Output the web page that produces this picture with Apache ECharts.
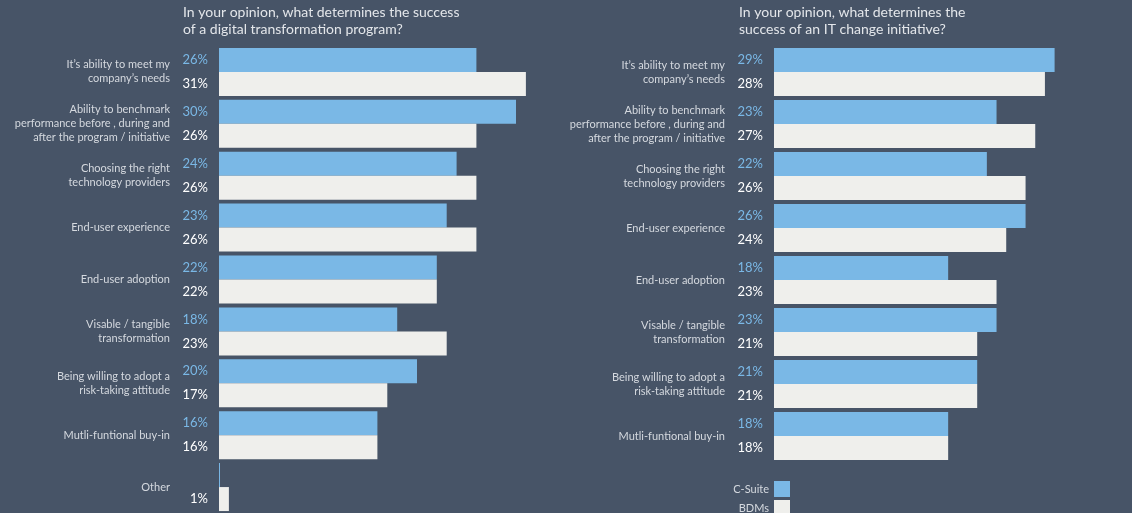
<!DOCTYPE html>
<html>
<head>
<meta charset="utf-8">
<script src="https://cdn.jsdelivr.net/npm/echarts@6/dist/echarts.min.js"></script>
<style>
html,body{margin:0;padding:0;background:#475467;}
#c{width:1132px;height:513px;}
</style>
</head>
<body>
<div id="c"></div>
<script>
const titleLeft = 'In your opinion, what determines the success\nof a digital transformation program?';
const titleRight = 'In your opinion, what determines the\nsuccess of an IT change initiative?';
const categoriesLeft = [
  'It\u2019s ability to meet my\ncompany\u2019s needs',
  'Ability to benchmark\nperformance before , during and\nafter the program / initiative',
  'Choosing the right\ntechnology providers',
  'End-user experience',
  'End-user adoption',
  'Visable / tangible\ntransformation',
  'Being willing to adopt a\nrisk-taking attitude',
  'Mutli-funtional buy-in',
  'Other'
];
const categoriesRight = categoriesLeft.slice(0, 8);
const seriesNames = ['C-Suite', 'BDMs'];
const cSuiteLeft = [26, 30, 24, 23, 22, 18, 20, 16, 0.1];
const bdmsLeft   = [31, 26, 26, 26, 22, 23, 17, 16, 1];
const cSuiteRight = [29, 23, 22, 26, 18, 23, 21, 18];
const bdmsRight   = [28, 27, 26, 24, 23, 21, 21, 18];

const BLUE = '#7ab8e6';
const LIGHT = '#efefec';
const FONT = 'Lato, "Open Sans", sans-serif';

function labelFmt(p) { return p.value < 0.5 ? '' : Math.round(p.value) + '%'; }

function barSeries(name, data, idx, color, labelColor) {
  return {
    type: 'bar', name: name, data: data,
    xAxisIndex: idx, yAxisIndex: idx,
    barWidth: 24, barGap: '0%',
    itemStyle: { color: color },
    label: {
      show: true, position: 'left', distance: 11,
      formatter: labelFmt, color: labelColor,
      fontSize: 13, fontFamily: FONT
    },
    emphasis: { disabled: true },
    animation: false
  };
}

function legendItem(name, top) {
  return {
    data: [name],
    orient: 'vertical', align: 'right',
    right: 342, top: top, padding: 0,
    itemWidth: 16, itemHeight: 16,
    icon: 'rect',
    selectedMode: false,
    textStyle: { color: '#d5d9df', fontSize: 11, fontFamily: FONT }
  };
}

const chart = echarts.init(document.getElementById('c'), null, { renderer: 'canvas' });
chart.setOption({
  backgroundColor: '#475467',
  animation: false,
  textStyle: { fontFamily: FONT },
  title: [
    { text: titleLeft, left: 183, top: 4, padding: 0,
      textStyle: { color: '#e3e6ea', fontSize: 14, fontWeight: 'normal', lineHeight: 17, fontFamily: FONT } },
    { text: titleRight, left: 739, top: 4, padding: 0,
      textStyle: { color: '#e3e6ea', fontSize: 14, fontWeight: 'normal', lineHeight: 17, fontFamily: FONT } }
  ],
  legend: [
    legendItem(seriesNames[0], 481),
    legendItem(seriesNames[1], 500)
  ],
  grid: [
    { left: 219, top: 46, width: 396, height: 468 },
    { left: 774, top: 46, right: 0, height: 416 }
  ],
  xAxis: [
    { type: 'value', gridIndex: 0, min: 0, max: 40, show: false },
    { type: 'value', gridIndex: 1, min: 0, max: 37, show: false }
  ],
  yAxis: [
    { type: 'category', gridIndex: 0, data: categoriesLeft, inverse: true,
      axisLine: { show: false }, axisTick: { show: false },
      axisLabel: { margin: 49, color: '#d5d9df', fontSize: 11, lineHeight: 14, align: 'right', fontFamily: FONT } },
    { type: 'category', gridIndex: 1, data: categoriesRight, inverse: true,
      axisLine: { show: false }, axisTick: { show: false },
      axisLabel: { margin: 49, color: '#d5d9df', fontSize: 11, lineHeight: 14, align: 'right', fontFamily: FONT } }
  ],
  series: [
    barSeries(seriesNames[0], cSuiteLeft, 0, BLUE, BLUE),
    barSeries(seriesNames[1], bdmsLeft, 0, LIGHT, '#ffffff'),
    barSeries(seriesNames[0], cSuiteRight, 1, BLUE, BLUE),
    barSeries(seriesNames[1], bdmsRight, 1, LIGHT, '#ffffff')
  ]
});
</script>
</body>
</html>
